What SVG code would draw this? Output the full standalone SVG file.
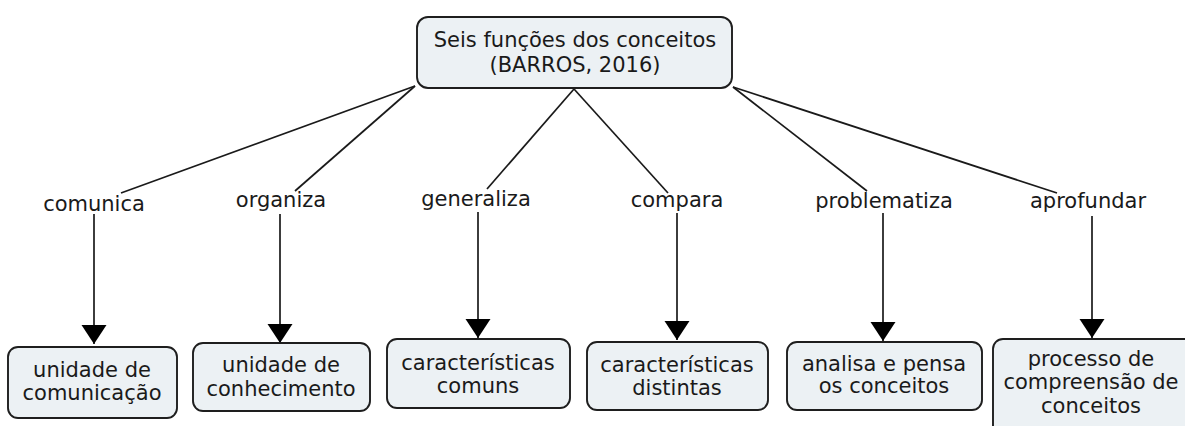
<svg xmlns="http://www.w3.org/2000/svg" width="1185" height="426" viewBox="0 0 1185 426">
<defs>
<style>
.box{fill:#ecf1f4;stroke:#1e1e1e;stroke-width:1.9}
.t{font-family:"DejaVu Sans",Verdana,sans-serif;font-size:21px;fill:#1a1a1a;text-anchor:middle}
.ln{stroke:#1a1a1a;stroke-width:1.7;fill:none}
</style>
<marker id="ah" markerUnits="userSpaceOnUse" markerWidth="20" markerHeight="26" refX="19" refY="12.5" orient="auto">
<path d="M0,0 L19,12.5 L0,25 Z" fill="#000"/>
</marker>
</defs>
<rect width="1185" height="426" fill="#fff"/>
<g id="connectors">
<line class="ln" x1="415" y1="86" x2="121" y2="193"/>
<line class="ln" x1="415" y1="86" x2="295" y2="191"/>
<line class="ln" x1="574" y1="89" x2="487" y2="189"/>
<line class="ln" x1="574" y1="89" x2="668" y2="193"/>
<line class="ln" x1="733" y1="87" x2="867" y2="191"/>
<line class="ln" x1="733" y1="87" x2="1057" y2="193"/>
<line class="ln" x1="94" y1="214" x2="94" y2="344" marker-end="url(#ah)"/>
<line class="ln" x1="280" y1="214" x2="280" y2="343" marker-end="url(#ah)"/>
<line class="ln" x1="478" y1="212" x2="478" y2="338" marker-end="url(#ah)"/>
<line class="ln" x1="677" y1="213" x2="677" y2="340" marker-end="url(#ah)"/>
<line class="ln" x1="883" y1="213" x2="883" y2="341" marker-end="url(#ah)"/>
<line class="ln" x1="1092" y1="216" x2="1092" y2="338" marker-end="url(#ah)"/>
</g>
<g id="root">
<rect class="box" x="417" y="17" width="315" height="71" rx="11"/>
<text class="t" x="575" y="47">Seis funções dos conceitos</text>
<text class="t" x="575" y="72">(BARROS, 2016)</text>
</g>
<g id="lbl-comunica"><text class="t" x="94" y="211">comunica</text></g>
<g id="lbl-organiza"><text class="t" x="281" y="207">organiza</text></g>
<g id="lbl-generaliza"><text class="t" x="476" y="206">generaliza</text></g>
<g id="lbl-compara"><text class="t" x="677" y="207">compara</text></g>
<g id="lbl-problematiza"><text class="t" x="884" y="208">problematiza</text></g>
<g id="lbl-aprofundar"><text class="t" x="1088" y="208">aprofundar</text></g>
<g id="n1">
<rect class="box" x="8" y="347" width="169" height="71" rx="10"/>
<text class="t" x="92" y="377">unidade de</text>
<text class="t" x="92" y="400">comunicação</text>
</g>
<g id="n2">
<rect class="box" x="193" y="343" width="177" height="68" rx="10"/>
<text class="t" x="281" y="372">unidade de</text>
<text class="t" x="281" y="396">conhecimento</text>
</g>
<g id="n3">
<rect class="box" x="387" y="339" width="183" height="69" rx="10"/>
<text class="t" x="478" y="370">características</text>
<text class="t" x="478" y="393">comuns</text>
</g>
<g id="n4">
<rect class="box" x="587" y="342" width="181" height="68" rx="10"/>
<text class="t" x="677" y="372">características</text>
<text class="t" x="677" y="395">distintas</text>
</g>
<g id="n5">
<rect class="box" x="787" y="342" width="195" height="68" rx="10"/>
<text class="t" x="884" y="371">analisa e pensa</text>
<text class="t" x="884" y="393">os conceitos</text>
</g>
<g id="n6">
<rect class="box" x="993" y="339" width="202" height="100" rx="10"/>
<text class="t" x="1091" y="366">processo de</text>
<text class="t" x="1091" y="389">compreensão de</text>
<text class="t" x="1091" y="413">conceitos</text>
</g>
</svg>
